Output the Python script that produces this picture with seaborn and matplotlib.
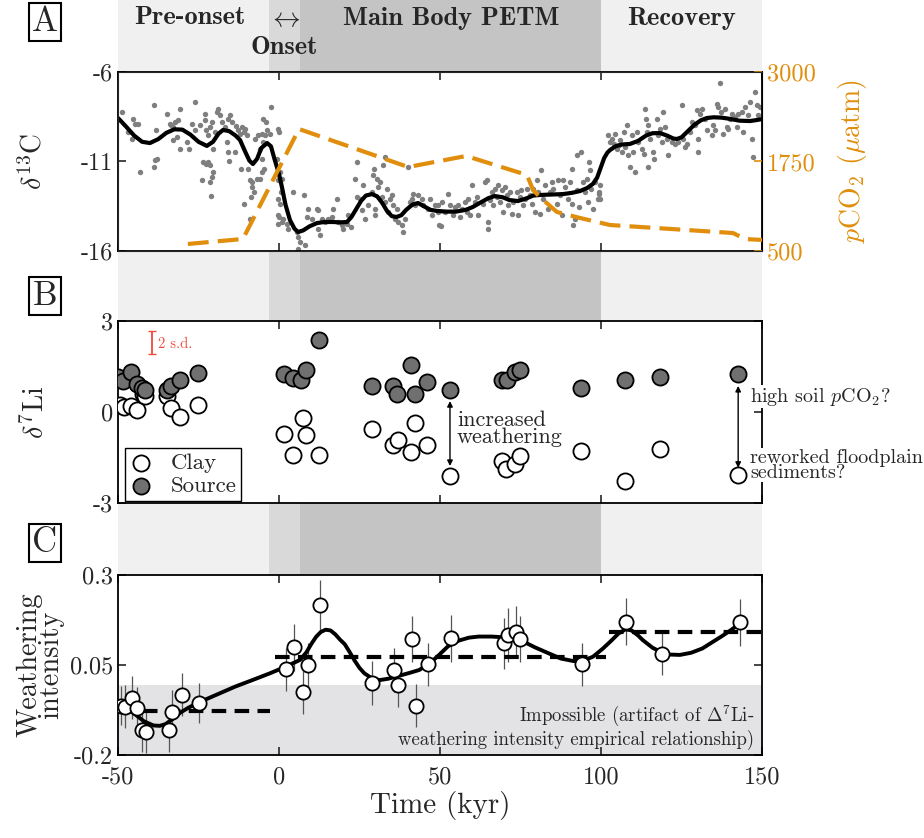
import numpy as np
import pandas as pd
import matplotlib
matplotlib.use('Agg')
import matplotlib.pyplot as plt
import seaborn as sns

# ---------------- Panel A data ----------------
scat_t = [-48.9,-47.0,-45.2,-44.7,-43.7,-43.2,-45.5,-38.7,-38.3,-38.5,-38.7,-38.0,-34.9,-33.9,-33.4,-32.8,-32.3,-31.3,-30.7,-30.7,
          -31.7,-32.8,-28.6,-28.1,-27.1,-26.2,-26.0,-24.5,-23.1,-22.9,-22.7,-21.9,-21.4,-20.9,-20.4,-19.3,-18.8,-18.3,-17.8,-19.8,
          -23.6,-22.6,-21.9,-21.4,-20.4,-20.9,-21.4,-23.9,-21.2,-16.8,-16.2,-15.7,-15.2,-14.7,-15.5,-15.7,-13.4,-12.6,-12.1,-11.6,
          -11.0,-10.5,-10.0,-11.8,-13.7,-9.5,-9.0,-8.5,-8.3,-7.7,-6.9,-5.9,-5.4,-8.7,-11.0,-9.0,-7.5,-6.5,-5.4,-4.9,
          -4.4,-3.9,-3.6,-2.9,-2.4,-4.9,-5.9,-5.4,-4.6,-0.3,-0.3,-0.3,-0.3,
          -0.4,0.0,-0.7,0.3,0.8,0.6,0.3,0.0,1.3,1.0,2.4,2.9,4.5,5.5,6.0,6.5,5.8,8.1,7.9,8.6,
          9.1,10.1,11.7,12.2,12.2,12.7,13.3,14.3,15.3,16.4,16.9,18.0,18.4,19.5,20.0,21.0,21.5,22.4,23.6,24.1,
          24.1,25.2,25.7,26.2,26.7,27.7,28.8,29.3,29.6,30.3,30.8,31.4,29.8,29.8,31.9,32.4,32.9,32.9,33.4,33.9,
          34.5,35.0,35.5,36.0,36.5,37.1,38.1,38.6,39.1,40.2,40.7,41.2,41.7,42.2,43.3,44.3,44.8,46.4,46.9,47.4,
          48.4,49.5,49.7,
          49.5,50.5,50.3,51.5,52.6,53.1,54.1,54.7,55.7,56.2,56.7,57.8,58.3,58.8,59.3,59.8,60.9,61.4,61.9,63.5,
          64.0,64.5,64.8,65.0,65.5,66.0,66.6,67.1,67.6,68.1,68.6,69.1,69.7,70.2,70.7,71.2,71.7,72.3,72.8,73.8,
          74.3,74.8,75.3,75.9,76.4,76.9,77.9,78.5,79.0,79.5,80.0,80.5,81.0,81.4,82.1,82.6,83.6,84.2,84.7,85.2,
          86.2,86.7,87.3,87.8,88.3,88.8,89.8,90.4,90.9,91.1,91.4,91.9,92.4,92.7,93.2,93.9,94.5,95.0,95.5,96.0,
          96.2,96.5,97.0,97.6,98.1,99.1,99.3,
          99.7,99.7,99.4,102.3,102.8,103.4,103.9,104.4,104.9,105.5,106.0,106.5,107.0,107.5,108.0,108.5,109.0,109.5,110.0,110.6,
          111.1,111.6,112.7,113.2,113.7,113.9,114.2,114.5,114.7,115.2,116.3,116.6,117.3,117.8,118.3,118.9,119.4,119.9,120.4,120.9,
          121.9,123.0,124.0,125.1,125.6,126.1,126.6,127.7,128.2,129.2,129.7,130.0,130.2,130.7,131.3,132.3,132.8,134.4,134.9,135.4,
          135.9,136.4,137.0,137.3,138.0,138.5,139.0,139.5,140.0,140.6,141.6,142.1,142.6,143.7,144.2,144.7,145.7,146.3,146.8,147.3,
          147.8,148.3,148.8,149.4]
scat_d = [-8.23,-9.35,-8.61,-8.89,-8.89,-11.59,-9.72,-7.86,-9.26,-10.93,-11.31,-10.88,-8.33,-8.89,-8.98,-9.07,-8.79,-8.70,-8.05,-10.28,
          -9.63,-9.82,-9.91,-10.28,-8.89,-7.68,-9.26,-8.98,-8.70,-8.33,-9.26,-9.54,-9.07,-8.79,-10.28,-8.23,-8.05,-8.42,-8.79,-9.35,
          -11.03,-11.12,-11.03,-11.21,-11.59,-11.87,-12.15,-12.05,-12.93,-9.07,-9.91,-8.61,-8.42,-8.79,-10.99,-10.47,-9.02,-9.26,-9.45,-9.07,
          -9.35,-9.17,-9.54,-11.40,-10.47,-11.40,-12.05,-12.15,-12.42,-12.70,-11.96,-11.96,-11.59,-12.98,-13.36,-14.19,-9.72,-9.54,-9.45,-9.91,
          -9.54,-8.79,-9.26,-9.45,-7.96,-8.61,-10.28,-10.84,-11.40,-12.05,-13.08,-14.01,-14.47,
          -9.17,-9.35,-10.84,-11.59,-11.96,-12.70,-13.36,-14.10,-14.19,-14.38,-14.47,-14.75,-12.70,-14.94,-15.22,-15.50,-15.87,-15.68,-12.89,-14.10,
          -13.64,-14.19,-13.64,-13.73,-14.75,-15.12,-14.19,-14.38,-14.19,-14.10,-13.64,-13.08,-14.38,-14.57,-14.75,-14.47,-14.01,-14.66,-11.96,-12.98,
          -11.03,-13.08,-13.73,-12.33,-14.19,-13.45,-12.70,-11.77,-11.40,-11.96,-12.42,-12.15,-13.64,-14.01,-12.98,-11.21,-10.75,-13.26,-12.52,-13.82,
          -13.08,-12.89,-13.45,-14.19,-13.64,-14.38,-14.57,-14.94,-14.19,-11.31,-13.26,-13.08,-12.80,-13.45,-12.89,-13.08,-13.45,-13.64,-13.08,-14.01,
          -13.45,-13.82,-14.57,
          -13.45,-13.26,-14.60,-13.82,-12.80,-13.45,-14.01,-13.54,-13.45,-14.10,-13.64,-13.26,-13.82,-13.08,-14.01,-12.33,-13.26,-12.98,-14.01,-13.36,
          -12.15,-12.05,-14.38,-14.75,-13.17,-12.70,-13.45,-12.52,-12.98,-12.33,-13.26,-12.61,-13.82,-12.42,-12.89,-13.45,-12.70,-13.91,-13.26,-12.70,
          -14.01,-12.98,-12.61,-13.45,-13.08,-12.52,-12.89,-13.36,-12.52,-13.82,-12.05,-12.70,-13.91,-11.49,-13.08,-12.33,-13.64,-12.70,-12.15,-12.52,
          -13.36,-12.05,-12.89,-14.01,-12.05,-12.42,-13.08,-12.15,-13.36,-11.40,-14.57,-14.19,-12.61,-10.66,-13.54,-10.47,-12.15,-12.70,-11.96,-13.26,
          -11.03,-11.49,-12.52,-13.64,-12.15,-13.08,-12.70,
          -12.33,-13.08,-12.80,-9.54,-9.91,-9.72,-10.00,-9.45,-10.28,-10.10,-9.82,-10.47,-9.35,-10.19,-8.98,-10.66,-11.31,-9.54,-10.47,-11.59,
          -9.35,-9.91,-10.28,-10.56,-8.05,-8.61,-9.35,-11.31,-8.98,-9.72,-10.47,-10.84,-8.61,-9.54,-9.17,-9.91,-8.23,-9.07,-9.72,-10.66,
          -9.91,-10.00,-9.91,-7.86,-9.72,-10.19,-10.00,-9.35,-8.79,-8.98,-8.14,-10.47,-9.72,-8.33,-8.05,-8.61,-9.26,-9.54,-8.98,-9.26,
          -7.77,-7.96,-6.60,-8.23,-9.45,-8.05,-9.07,-9.17,-8.61,-8.33,-8.51,-9.07,-8.33,-8.23,-9.35,-7.96,-8.42,-7.68,-9.72,-10.75,
          -7.12,-7.86,-8.42,-7.96]

smooth_t = [-50.0,-47.5,-45.0,-42.5,-40.1,-37.5,-35.0,-32.5,-30.0,-27.5,-25.0,-22.4,-20.5,-18.8,-17.4,-15.5,-13.5,-12.1,-10.5,-9.2,
            -8.1,-6.8,-5.5,-3.7,-2.5,-1.5,0.0,0.9,2.0,3.4,4.8,5.9,7.5,9.5,11.8,14.0,16.8,19.0,21.1,22.5,
            24.0,25.5,27.0,28.9,30.5,32.0,33.5,35.0,36.5,38.0,39.5,41.5,43.2,45.0,47.0,49.0,52.0,55.0,58.0,60.2,
            62.5,65.0,67.0,69.5,71.5,74.2,77.0,79.0,81.1,84.0,88.2,91.0,93.5,95.7,97.5,98.8,100.0,101.0,102.0,102.8,
            104.5,106.5,109.0,111.5,114.0,116.0,118.3,120.5,122.5,123.6,125.0,127.0,129.0,131.0,132.9,135.0,137.5,140.1,143.0,146.3,
            148.5,150.0]
smooth_d = [-8.57,-9.05,-9.55,-9.90,-9.97,-9.75,-9.40,-9.20,-9.22,-9.50,-9.90,-10.13,-9.90,-9.45,-9.24,-9.30,-9.55,-9.80,-10.45,-10.95,
            -11.14,-10.85,-10.25,-9.97,-10.15,-10.80,-11.70,-12.42,-13.40,-14.27,-14.75,-14.94,-14.85,-14.62,-14.44,-14.38,-14.38,-14.40,-14.38,-14.10,
            -13.65,-13.20,-12.90,-12.82,-12.95,-13.30,-13.75,-14.05,-14.10,-14.00,-13.70,-13.40,-13.32,-13.50,-13.70,-13.76,-13.80,-13.80,-13.70,-13.54,
            -13.30,-13.05,-12.93,-13.00,-13.15,-13.21,-13.05,-12.90,-12.87,-12.85,-12.82,-12.75,-12.65,-12.48,-12.25,-11.90,-11.30,-10.80,-10.50,-10.36,
            -10.15,-10.05,-10.02,-9.85,-9.55,-9.42,-9.41,-9.55,-9.72,-9.74,-9.65,-9.30,-8.95,-8.70,-8.57,-8.53,-8.55,-8.62,-8.72,-8.74,
            -8.68,-8.63]

pco2_t = [-28.3,-11.2,6.2,40.1,58.1,77.0,78.9,81.0,86.3,93.5,102.8,141.0,144.7,150.3]
pco2_v = [598,668,2204,1673,1827,1562,1352,1254,1045,961,863,751,667,654]

# ---------------- Panel B data ----------------
source_t = [-50.1,-48.5,-45.9,-44.2,-42.6,-41.5,-34.9,-33.6,-30.9,-25.2,1.6,4.2,6.9,8.5,12.5,
            28.8,35.4,36.7,41.0,42.3,46.0,53.1,69.2,70.9,73.2,74.9,93.8,107.4,118.3,142.4]
source_li = [1.16,1.02,1.33,0.91,0.80,0.74,0.74,0.85,1.07,1.27,1.24,1.13,1.07,1.38,2.37,
             0.85,0.85,0.58,1.54,0.58,1.00,0.72,1.07,1.04,1.32,1.40,0.80,1.05,1.16,1.24]
clay_t = [-49.5,-48.1,-45.9,-44.2,-42.2,-41.5,-34.9,-33.6,-30.9,-25.2,1.6,4.5,7.3,8.5,12.5,
          28.8,35.4,37.0,41.1,42.3,46.0,53.1,69.2,70.6,73.2,74.9,93.8,107.4,118.3,142.4]
clay_li = [0.22,0.17,0.19,0.06,0.58,0.52,0.52,0.14,-0.16,0.22,-0.74,-1.43,-0.19,-0.75,-1.43,
           -0.57,-1.10,-0.93,-1.32,-0.35,-1.10,-2.11,-1.62,-1.87,-1.73,-1.45,-1.29,-2.28,-1.23,-2.08]

# ---------------- Panel C data ----------------
wi_t = [-49.1,-47.8,-45.5,-44.1,-42.4,-41.2,-34.3,-33.2,-30.2,-25.0,2.2,4.8,7.4,8.9,12.8,
        29.0,35.8,37.0,41.4,42.7,46.3,53.5,69.8,71.0,73.6,74.8,94.1,107.7,118.8,143.2]
wi_v = [-0.063,-0.066,-0.041,-0.070,-0.131,-0.135,-0.131,-0.080,-0.033,-0.056,0.038,0.099,-0.026,0.050,0.217,
        0.000,0.036,-0.006,0.122,-0.063,0.052,0.124,0.110,0.133,0.143,0.122,0.052,0.170,0.081,0.169]
wi_err = [0.055,0.06,0.06,0.06,0.06,0.06,0.06,0.06,0.06,0.055,0.06,0.065,0.06,0.06,0.07,
          0.06,0.06,0.06,0.065,0.06,0.06,0.065,0.07,0.075,0.07,0.065,0.06,0.065,0.06,0.065]
wsm_t = [-49.5,-47.0,-44.4,-42.0,-39.0,-37.0,-35.2,-33.0,-30.6,-28.0,-24.4,-19.0,-13.6,-8.0,-2.8,2.0,6.5,8.5,10.0,11.5,
         13.0,14.5,16.0,17.5,19.0,20.4,22.0,23.5,25.0,26.5,28.5,31.2,34.0,37.3,40.5,43.5,46.5,49.7,52.5,55.9,
         59.0,62.0,66.0,69.8,73.0,75.9,79.5,83.6,87.5,91.4,94.5,97.5,100.5,102.9,105.5,107.6,109.5,111.5,113.0,116.0,
         119.1,121.5,124.5,128.0,131.5,134.5,137.7,140.5,143.2]
wsm_v = [-0.061,-0.072,-0.089,-0.106,-0.118,-0.119,-0.114,-0.100,-0.082,-0.068,-0.052,-0.031,-0.010,0.009,0.027,0.045,0.064,0.085,0.108,0.128,
         0.142,0.148,0.146,0.135,0.120,0.108,0.085,0.062,0.042,0.027,0.015,0.008,0.012,0.020,0.028,0.036,0.052,0.078,0.102,0.118,
         0.126,0.129,0.129,0.127,0.122,0.115,0.099,0.083,0.068,0.061,0.062,0.073,0.095,0.115,0.138,0.149,0.146,0.132,0.119,0.098,
         0.084,0.079,0.078,0.084,0.096,0.113,0.131,0.148,0.166]
step_t = [[-49.5, -2.8], [-1.2, 101.4], [102.5, 150.0]]
step_v = [-0.078, 0.071, 0.143]

# ---------------- Styling ----------------
sns.set_style('white')
plt.rcParams['font.family'] = ['cmr10', 'DejaVu Sans']
plt.rcParams['mathtext.fontset'] = 'cm'
plt.rcParams['axes.unicode_minus'] = False
plt.rcParams['axes.formatter.use_mathtext'] = True

W, H = 924, 838
fig = plt.figure(figsize=(W / 100, H / 100), dpi=100)

def rect(x0, y0, x1, y1):
    return [x0 / W, 1 - y1 / H, (x1 - x0) / W, (y1 - y0) / H]

def fx(x):
    return x / W

def fy(y):
    return 1 - y / H

ORANGE = '#e08e0b'
LIGHT, ONSET, MAIN = '#f0f0f0', '#d9d9d9', '#c4c4c4'
TICK_FS = 17.5

# Phase bands
for (y0, y1) in [(0, 72), (251, 321), (503, 575)]:
    bx = fig.add_axes(rect(118, y0, 762, y1))
    bx.set_xlim(-50, 150)
    bx.set_ylim(0, 1)
    bx.axvspan(-50, 150, color=LIGHT, lw=0)
    bx.axvspan(-3, 100, color=ONSET, lw=0)
    bx.axvspan(6.5, 100, color=MAIN, lw=0)
    bx.axis('off')
    bx.set_zorder(-5)

def style_axes(ax, right=True):
    for s in ax.spines.values():
        s.set_linewidth(1.3)
        s.set_color('black')
    ax.tick_params(direction='in', length=6, width=1.2, top=True, right=right,
                   labelsize=TICK_FS, bottom=True, left=True)
    ax.set_xlim(-50, 150)
    ax.set_xticks([-50, 0, 50, 100, 150])

# ---------------- Panel A ----------------
axA = fig.add_axes(rect(118, 72, 762, 251))
sns.scatterplot(x=scat_t, y=scat_d, ax=axA, color='#7f7f7f', s=15, linewidth=0, zorder=2)
sns.lineplot(x=smooth_t, y=smooth_d, ax=axA, color='black', lw=3.0, sort=False, estimator=None, zorder=4)
axA.set_ylim(-16, -6)
axA.set_yticks([-16, -11, -6])
axA.set_yticklabels(['-16', '-11', '-6'])
style_axes(axA, right=False)
axA.set_xticklabels([])
axA.set_ylabel(r'$\delta^{13}$C', fontsize=20)
axA.yaxis.set_label_coords(-0.11, 0.5)

axA2 = axA.twinx()
sns.lineplot(x=pco2_t, y=pco2_v, ax=axA2, color=ORANGE, lw=3.0, sort=False, estimator=None, zorder=3)
axA2.lines[-1].set_dashes([5, 2.2])
axA2.set_ylim(500, 3000)
axA2.set_yticks([500, 1750, 3000])
axA2.set_yticklabels(['500', '1750', '3000'])
axA2.tick_params(axis='y', direction='in', length=6, width=1.2, colors=ORANGE, labelsize=TICK_FS)
axA2.spines['right'].set_color('black')
axA2.set_ylabel(r'$p$CO$_2$ ($\mu$atm)', color=ORANGE, fontsize=20)
axA2.yaxis.set_label_coords(1.115, 0.5)
axA2.grid(False)
axA.grid(False)

# ---------------- Panel B ----------------
axB = fig.add_axes(rect(118, 321, 762, 503))
sns.scatterplot(x=clay_t, y=clay_li, ax=axB, color='white', edgecolor='black', s=135, linewidth=1.3,
                label='Clay', zorder=3)
sns.scatterplot(x=source_t, y=source_li, ax=axB, color='#707070', edgecolor='black', s=135, linewidth=1.3,
                label='Source', zorder=3)
axB.set_ylim(-3, 3)
axB.set_yticks([-3, 0, 3])
axB.set_yticklabels(['-3', '0', '3'])
style_axes(axB)
axB.set_xticklabels([])
axB.set_ylabel(r'$\delta^{7}$Li', fontsize=20)
axB.yaxis.set_label_coords(-0.105, 0.5)
leg = axB.legend(loc='lower left', bbox_to_anchor=(0.004, -0.012), frameon=True, fancybox=False, edgecolor='black',
                 framealpha=1, fontsize=16.5, handletextpad=0.8, borderpad=0.2, labelspacing=0.15,
                 handlelength=1.0, borderaxespad=0.2)
leg.get_frame().set_linewidth(1.0)

axB.errorbar([-39.5], [2.29], yerr=[0.38], fmt='none', ecolor='#f04a3c', elinewidth=1.3, capsize=3)
axB.text(-37.6, 2.25, '2 s.d.', color='#f04a3c', fontsize=10.5, va='center', ha='left')

axB.annotate('', xy=(53.1, -1.78), xytext=(53.1, 0.36),
             arrowprops=dict(arrowstyle='<|-|>', color='black', lw=1.0, mutation_scale=8,
                             shrinkA=0, shrinkB=0))
axB.text(55.3, -0.55, 'increased\nweathering', fontsize=16, va='center', ha='left', linespacing=0.8)
axB.annotate('', xy=(142.6, -1.84), xytext=(142.6, 0.86),
             arrowprops=dict(arrowstyle='<|-|>', color='black', lw=1.0, mutation_scale=8,
                             shrinkA=0, shrinkB=0))
axB.text(146.3, 0.5, r'high soil $p$CO$_2$?', fontsize=14.5, va='center', ha='left', clip_on=False,
         bbox=dict(fc='white', ec='none', pad=0.5), zorder=6)
axB.text(146.3, -1.75, 'reworked floodplain\nsediments?', fontsize=14.5, va='center', ha='left',
         linespacing=0.8, clip_on=False, bbox=dict(fc='white', ec='none', pad=0.5), zorder=6)

# ---------------- Panel C ----------------
axC = fig.add_axes(rect(118, 575, 762, 755))
axC.axhspan(-0.2, -0.005, color='#e3e3e5', lw=0, zorder=0)
axC.errorbar(wi_t, wi_v, yerr=wi_err, fmt='none', ecolor='#555555', elinewidth=0.9, zorder=2)
for seg, v in zip(step_t, step_v):
    sns.lineplot(x=seg, y=[v, v], ax=axC, color='black', lw=3.0, estimator=None, zorder=3)
    axC.lines[-1].set_dashes([3.5, 2.0])
sns.lineplot(x=wsm_t, y=wsm_v, ax=axC, color='black', lw=2.8, sort=False, estimator=None, zorder=4)
sns.scatterplot(x=wi_t, y=wi_v, ax=axC, color='white', edgecolor='black', s=105, linewidth=1.3, zorder=5)
axC.set_ylim(-0.2, 0.3)
axC.set_yticks([-0.2, 0.05, 0.3])
axC.set_yticklabels(['-0.2', '0.05', '0.3'])
style_axes(axC)
axC.set_xticklabels(['-50', '0', '50', '100', '150'])
axC.tick_params(axis='x', pad=8)
axC.set_xlabel('Time (kyr)', fontsize=21, labelpad=2)
axC.set_ylabel('Weathering\nintensity', fontsize=20.5, linespacing=0.75)
axC.yaxis.set_label_coords(-0.084, 0.5)
axC.text(147.5, -0.092, r'Impossible (artifact of $\Delta^7$Li-', fontsize=13.5, ha='right', va='center')
axC.text(147.5, -0.158, 'weathering intensity empirical relationship)', fontsize=13.5, ha='right', va='center')

# ---------------- Header labels ----------------
bold = dict(family='cmb10', fontsize=19, ha='center', va='center')
fig.text(fx(190), fy(18), 'Pre-onset', **bold)
fig.text(fx(284), fy(47), 'Onset', **bold)
fig.text(fx(285), fy(19), r'$\leftrightarrow$', fontsize=20, ha='center', va='center')
fig.text(fx(451), fy(18), 'Main Body PETM', **bold)
fig.text(fx(682), fy(18), 'Recovery', **bold)

for lab, y in [('A', 22), ('B', 296), ('C', 543)]:
    fig.text(fx(45), fy(y), lab, fontsize=25, ha='center', va='center',
             bbox=dict(boxstyle='square,pad=0.1', fc='white', ec='black', lw=1.5))

fig.savefig('out.png', dpi=100)
